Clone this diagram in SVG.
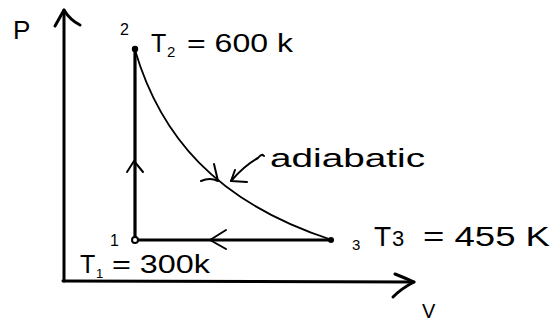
<svg xmlns="http://www.w3.org/2000/svg" width="556" height="322" viewBox="0 0 556 322">
<style>
.ax{stroke:#000;stroke-width:3;fill:none;stroke-linecap:round;stroke-linejoin:round}
.ln{stroke:#000;stroke-width:3.2;fill:none;stroke-linecap:round}
.cv{stroke:#000;stroke-width:1.8;fill:none;stroke-linecap:round}
.ah{stroke:#000;stroke-width:2;fill:none;stroke-linecap:round;stroke-linejoin:round}
.t{font-family:"Liberation Sans",Arial,sans-serif;fill:#000}
</style>
<rect width="556" height="322" fill="#fff"/>
<g id="axes">
<path class="ax" d="M64,281 L64,10"/>
<path class="ax" d="M55,26 L64,10 Q70,20 80,25"/>
<path class="ax" d="M63,281 L414,282"/>
<path class="ax" d="M395,274 Q405,278 414,282 Q402,288 393,297"/>
<text class="t" x="13" y="39" font-size="26">P</text>
<text class="t" x="422" y="318" font-size="20">V</text>
</g>
<g id="connectors">
<path class="ln" d="M135,240 L135,50"/>
<path class="ah" d="M127,172 L134,161 L143,172"/>
<path class="ln" d="M332,240 L138,240"/>
<path class="ah" d="M226,230 L210,240 L226,249"/>
<path class="cv" d="M135,50 C160,135 215,202 332,240"/>
<path class="ah" d="M201,181 Q210,177 218,181 L214,164"/>
</g>
<g id="node2">
<circle cx="135" cy="49" r="3.2" fill="#000"/>
<text class="t" x="120" y="35" font-size="16">2</text>
<text class="t" x="151" y="52" font-size="25">T</text>
<text class="t" x="167" y="57" font-size="15">2</text>
<text class="t" x="187" y="52" font-size="25" textLength="106" lengthAdjust="spacingAndGlyphs">= 600 k</text>
</g>
<g id="node1">
<circle cx="135" cy="240" r="3" fill="#fff" stroke="#000" stroke-width="2"/>
<text class="t" x="110" y="246" font-size="16">1</text>
<text class="t" x="80" y="273" font-size="25">T</text>
<text class="t" x="96" y="278" font-size="13">1</text>
<text class="t" x="112" y="273" font-size="25" textLength="98" lengthAdjust="spacingAndGlyphs">= 300k</text>
</g>
<g id="node3">
<circle cx="331" cy="240" r="3" fill="#000"/>
<text class="t" x="352" y="250" font-size="15">3</text>
<text class="t" x="374" y="246" font-size="28">T</text>
<text class="t" x="392" y="246" font-size="22">3</text>
<text class="t" x="423" y="246" font-size="28" textLength="127" lengthAdjust="spacingAndGlyphs">= 455 K</text>
</g>
<g id="label-adiabatic">
<text class="t" x="270" y="167" font-size="26" textLength="155" lengthAdjust="spacingAndGlyphs">adiabatic</text>
<path class="ah" d="M258,158 Q262,153 264,156 M258,158 Q245,165 231,181"/>
<path class="ah" d="M235,170 L231,181 L247,182"/>
</g>
</svg>
